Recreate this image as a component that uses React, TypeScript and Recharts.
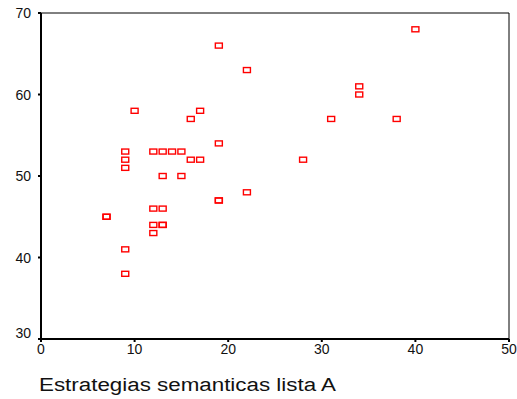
import { ScatterChart, Scatter, XAxis, YAxis, ReferenceLine } from "recharts";

// Estrategias semanticas lista A (x) vs. second score (y)
const listaA = [7, 7, 9, 9, 9, 9, 9, 10, 12, 12, 12, 12, 13, 13, 13, 13, 13, 14, 15, 15, 16, 16, 17, 17, 19, 19, 19, 19, 22, 22, 28, 31, 34, 34, 38, 40];
const puntaje = [45, 45, 53, 52, 51, 41, 38, 58, 53, 46, 44, 43, 53, 50, 46, 44, 44, 53, 53, 50, 57, 52, 58, 52, 66, 54, 47, 47, 63, 48, 52, 57, 61, 60, 57, 68];

const xTicks = [0, 10, 20, 30, 40, 50];
const yTicks = [30, 40, 50, 60, 70];

const data = listaA.map((x, i) => ({ x, y: puntaje[i] }));

const FONT = '"Liberation Sans", Arial, sans-serif';

const Marker = (props: any) => {
  const { cx, cy } = props;
  return (
    <rect
      x={cx - 3.5}
      y={cy - 2.5}
      width={7}
      height={5}
      fill="none"
      stroke="#ff0000"
      strokeWidth={1.4}
    />
  );
};

const XTick = (props: any) => {
  const { x, y, payload } = props;
  return (
    <text x={x} y={y} dy={10} textAnchor="middle" fontFamily={FONT} fontSize={14} fill="#111">
      {payload.value}
    </text>
  );
};

const YTick = (props: any) => {
  const { x, y, payload } = props;
  // the bottom label sits a little above its tick in the original
  const shift = payload.value === 30 ? -1 : 5;
  return (
    <text x={x} y={y} dy={shift} textAnchor="end" fontFamily={FONT} fontSize={14} fill="#111">
      {payload.value}
    </text>
  );
};

export default function App() {
  return (
    <div style={{ position: "absolute", left: 0, top: 0, background: "#fff" }}>
      <ScatterChart width={517} height={399} margin={{ top: 13, right: 8, bottom: 0, left: 0 }}>
        <XAxis
          type="number"
          dataKey="x"
          domain={[0, 50]}
          ticks={xTicks}
          height={60}
          axisLine={{ stroke: "#000", strokeWidth: 2 }}
          tickLine={{ stroke: "#000", strokeWidth: 2 }}
          tickSize={3}
          tickMargin={2}
          tick={<XTick />}
          label={{
            content: () => (
              <text
                x={39}
                y={391}
                fontFamily={FONT}
                fontSize={18}
                fill="#111"
                textLength={297}
                lengthAdjust="spacingAndGlyphs"
              >
                Estrategias semanticas lista A
              </text>
            ),
          }}
        />
        <YAxis
          type="number"
          dataKey="y"
          domain={[30, 70]}
          ticks={yTicks}
          width={41}
          axisLine={{ stroke: "#000", strokeWidth: 2 }}
          tickLine={{ stroke: "#000", strokeWidth: 2 }}
          tickSize={3}
          tickMargin={7}
          tick={<YTick />}
        />
        <ReferenceLine y={70} stroke="#000" strokeWidth={1} />
        <ReferenceLine x={50} stroke="#000" strokeWidth={1} />
        <Scatter data={data} shape={<Marker />} isAnimationActive={false} />
      </ScatterChart>
    </div>
  );
}
